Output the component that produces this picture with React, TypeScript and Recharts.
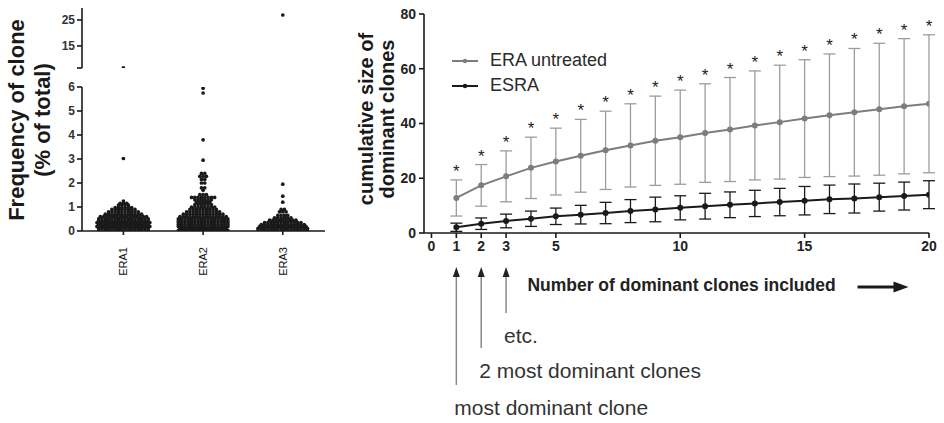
import React from "react";
import {
  ScatterChart,
  Scatter,
  ComposedChart,
  Line,
  ErrorBar,
  XAxis,
  YAxis,
  Legend,
  LabelList,
  ReferenceLine,
  ReferenceDot,
} from "recharts";

// ------------------------------------------------------------
// Left: clone frequency per patient (beeswarm, broken y axis)
// Right: cumulative size of dominant clones, mean +/- SD
// ------------------------------------------------------------

const FONT = '"Liberation Sans", Arial, Helvetica, sans-serif';
const INK = "#1a1a1a";
const GREY = "#7d7d7d";
const GREY_BAR = "#9c9c9c";

// left panel - frequency of clone (% of total) as [value, number of clones at that level]
const groups = ["ERA1", "ERA2", "ERA3"];
const era1Rows = [
  [0.03, 16], [0.11, 16], [0.19, 17], [0.27, 16], [0.35, 17], [0.43, 16], [0.51, 16],
  [0.6, 15], [0.7, 12], [0.8, 10], [0.9, 8], [0.98, 6], [1.08, 4], [1.15, 3], [1.25, 1], [3.02, 1],
];
const era2Rows = [
  [0.03, 16], [0.11, 15], [0.19, 16], [0.27, 16], [0.35, 16], [0.43, 16], [0.51, 16],
  [0.6, 15], [0.7, 13], [0.8, 11], [0.9, 9], [1.0, 8], [1.1, 6], [1.2, 5], [1.3, 6], [1.4, 8],
  [1.52, 3], [1.7, 1], [1.8, 2], [2.0, 2], [2.15, 2], [2.28, 3], [2.4, 2], [2.95, 1], [3.8, 1],
  [5.75, 1], [5.95, 1],
];
const era3Rows = [
  [0.03, 16], [0.11, 16], [0.19, 15], [0.27, 14], [0.35, 12], [0.45, 9], [0.55, 6], [0.65, 4],
  [0.8, 3], [0.9, 2], [1.2, 1], [1.45, 1], [1.95, 1],
];
// clones above the axis break
const era1High = [6.6];
const era2High: number[] = [];
const era3High = [26.9];
const lowTicks = [0, 1, 2, 3, 4, 5, 6];
const highTicks = [6.5, 15, 25];

// right panel
const clonesIncluded = [1, 2, 3, 4, 5, 6, 7, 8, 9, 10, 11, 12, 13, 14, 15, 16, 17, 18, 19, 20];
const eraMean = [12.8, 17.4, 20.7, 23.8, 26.1, 28.2, 30.2, 32, 33.7, 35, 36.5, 37.8, 39.3, 40.5, 41.8, 43, 44.1, 45.2, 46.3, 47.2];
const eraSd = [6.6, 7.6, 9.3, 11.2, 12.2, 13.3, 14.3, 15.2, 16.3, 17.2, 18, 19, 19.9, 20.8, 21.5, 22.4, 23.3, 24.1, 24.7, 25.2];
const esraMean = [2.1, 3.4, 4.4, 5.2, 6.1, 6.7, 7.3, 8, 8.6, 9.2, 9.8, 10.3, 10.8, 11.3, 11.8, 12.3, 12.6, 13.1, 13.5, 14];
const esraSd = [1.5, 2.1, 2.5, 2.8, 3.0, 3.4, 3.9, 4.2, 4.5, 4.4, 4.7, 4.7, 4.8, 5, 5.2, 5.2, 5.3, 5.1, 5.1, 5.1];
const xTicks = [0, 1, 2, 3, 5, 10, 15, 20];
const yTicks = [0, 20, 40, 60, 80];

// pointers under the x axis
const notePoints = [1, 2, 3];
const noteText = ["most dominant clone", "2 most dominant clones", "etc."];
const noteTail = [-55.5, -42, -29.2];
const noteTip = -12.4;

const GAP = 0.0414; // spacing of neighbouring dots, category units

function swarm(rows: number[][], centre: number) {
  const out: { x: number; y: number }[] = [];
  rows.forEach(([v, n]) => {
    for (let i = 0; i < n; i++) out.push({ x: centre + (i - (n - 1) / 2) * GAP, y: v });
  });
  return out;
}

const lowRows = [era1Rows, era2Rows, era3Rows];
const highVals = [era1High, era2High, era3High];

const tableData = clonesIncluded.map((n, i) => ({
  n,
  era: eraMean[i],
  eraSd: eraSd[i],
  esra: esraMean[i],
  esraSd: esraSd[i],
}));

const cloneDot = (p: any) => <circle cx={p.cx} cy={p.cy} r={1.85} fill={INK} />;

const leftTick = { fontSize: 12, fontWeight: 700, fill: "#333", fontFamily: FONT };
const rightTick = { fontSize: 14, fontWeight: 700, fill: "#222", fontFamily: FONT };
const axisStroke = { stroke: INK, strokeWidth: 1.6 };

function GroupTick({ x, y, payload }: any) {
  return (
    <text
      transform={`translate(${x},${y + 10}) rotate(-90)`}
      dy={4}
      textAnchor="end"
      fontSize={11}
      fill="#111"
      fontFamily={FONT}
    >
      {groups[payload.value - 1]}
    </text>
  );
}

function StarLabel({ x, y }: any) {
  return (
    <text x={x} y={y - 3} textAnchor="middle" fontSize={17} fill="#222" fontFamily={FONT}>
      *
    </text>
  );
}

function YTitle({ viewBox }: any) {
  const cy = viewBox.y + viewBox.height / 2 - 4.5;
  const x1 = viewBox.x + 33;
  const x2 = viewBox.x + 54;
  const common = { textAnchor: "middle" as const, fontSize: 20, fontWeight: 700, fill: INK, fontFamily: FONT };
  return (
    <g>
      <text transform={`translate(${x1},${cy}) rotate(-90)`} {...common}>cumulative size of</text>
      <text transform={`translate(${x2},${cy}) rotate(-90)`} {...common}>dominant clones</text>
    </g>
  );
}

function XTitle({ viewBox }: any) {
  const cx = viewBox.x + viewBox.width / 2 + 5;
  const y = viewBox.y + 58;
  return (
    <g>
      <text x={cx} y={y} textAnchor="middle" fontSize={17.5} fontWeight={700} fill="#222" fontFamily={FONT}>
        Number of dominant clones included
      </text>
      <line x1={cx + 176} x2={cx + 216} y1={y - 4} y2={y - 4} stroke={INK} strokeWidth={3} />
      <path d={`M${cx + 212},${y - 9.5} L${cx + 227},${y - 4} L${cx + 212},${y + 1.5} Z`} fill={INK} />
    </g>
  );
}

function SeriesKey({ payload }: any) {
  const items = (payload || []).filter((e: any) => e.type !== "none");
  return (
    <div style={{ fontFamily: FONT }}>
      {items.map((e: any) => (
        <div key={e.value} style={{ display: "flex", alignItems: "center", height: 25 }}>
          <svg width={26} height={10} style={{ marginRight: 12 }}>
            <line x1={0} x2={26} y1={5} y2={5} stroke={e.color} strokeWidth={2} />
            <circle cx={13} cy={5} r={2.2} fill={e.color} />
          </svg>
          <span style={{ fontSize: 18, color: "#2a2a2a" }}>{e.value}</span>
        </div>
      ))}
    </div>
  );
}

const ArrowHead = (p: any) => (
  <path d={`M${p.cx},${p.cy} L${p.cx - 3.5},${p.cy + 10} L${p.cx + 3.5},${p.cy + 10} Z`} fill="#222" />
);

const NoteText = (text: string) => (p: any) => (
  <text x={p.cx - 2} y={p.cy + 30} fontSize={21} fill="#333" fontFamily={FONT}>
    {text}
  </text>
);

export default function App() {
  return (
    <div style={{ position: "absolute", left: 0, top: 0, width: 944, height: 423, background: "#fff" }}>
      {/* left y title */}
      <svg style={{ position: "absolute", left: 0, top: 0 }} width={60} height={240}>
        <text transform="translate(23.5,120) rotate(-90)" textAnchor="middle" fontSize={22} fontWeight={700} fill={INK} fontFamily={FONT}>
          Frequency of clone
        </text>
        <text transform="translate(50,120) rotate(-90)" textAnchor="middle" fontSize={22} fontWeight={700} fill={INK} fontFamily={FONT}>
          (% of total)
        </text>
      </svg>

      {/* left, lower segment 0-6 */}
      <div style={{ position: "absolute", left: 0, top: 80 }}>
        <ScatterChart width={340} height={220} margin={{ top: 7, right: 15, bottom: 19, left: 0 }}>
          <XAxis
            type="number"
            dataKey="x"
            domain={[0.48, 3.53]}
            ticks={[1, 2, 3]}
            height={50}
            axisLine={axisStroke}
            tickLine={axisStroke}
            tickSize={4}
            tick={<GroupTick />}
            allowDataOverflow
          />
          <YAxis
            type="number"
            dataKey="y"
            domain={[0, 6]}
            ticks={lowTicks}
            interval={0}
            width={82}
            axisLine={axisStroke}
            tickLine={axisStroke}
            tickSize={5}
            tick={leftTick}
            allowDataOverflow
          />
          {lowRows.map((rows, i) => (
            <Scatter key={groups[i]} name={groups[i]} data={swarm(rows, i + 1)} shape={cloneDot} isAnimationActive={false} />
          ))}
        </ScatterChart>
      </div>

      {/* left, upper segment above the break */}
      <div style={{ position: "absolute", left: 0, top: 0 }}>
        <ScatterChart width={340} height={76} margin={{ top: 8, right: 15, bottom: 8, left: 0 }}>
          <XAxis type="number" dataKey="x" domain={[0.48, 3.53]} hide allowDataOverflow />
          <YAxis
            type="number"
            dataKey="y"
            domain={[6.5, 29.6]}
            ticks={highTicks}
            interval={0}
            tickFormatter={(v) => (v === 6.5 ? "" : String(v))}
            width={82}
            axisLine={axisStroke}
            tickLine={axisStroke}
            tickSize={5}
            tick={leftTick}
            allowDataOverflow
          />
          {highVals.map((vals, i) => (
            <Scatter
              key={groups[i]}
              name={groups[i]}
              data={vals.map((v) => ({ x: i + 1, y: v }))}
              shape={cloneDot}
              isAnimationActive={false}
            />
          ))}
        </ScatterChart>
      </div>

      {/* right panel */}
      <div style={{ position: "absolute", left: 340, top: 0 }}>
        <ComposedChart width={604} height={423} data={tableData} margin={{ top: 14, right: 15, bottom: 130, left: 0 }}>
          <XAxis
            type="number"
            dataKey="n"
            domain={[-0.3, 20]}
            ticks={xTicks}
            interval={0}
            height={60}
            axisLine={axisStroke}
            tickLine={axisStroke}
            tickSize={5}
            tickMargin={3}
            tick={rightTick}
            label={<XTitle />}
            allowDataOverflow
          />
          <YAxis
            type="number"
            domain={[0, 80]}
            ticks={yTicks}
            interval={0}
            width={84}
            axisLine={axisStroke}
            tickLine={axisStroke}
            tickSize={5}
            tickMargin={3}
            tick={rightTick}
            label={<YTitle />}
            allowDataOverflow
          />
          <Legend
            layout="vertical"
            align="center"
            verticalAlign="middle"
            content={<SeriesKey />}
            wrapperStyle={{ top: 48, left: 112, width: "auto" }}
          />
          <Line
            dataKey="era"
            name="ERA untreated"
            stroke={GREY}
            strokeWidth={2}
            dot={{ r: 2, fill: GREY, stroke: GREY }}
            activeDot={false}
            isAnimationActive={false}
          >
            <ErrorBar dataKey="eraSd" direction="y" width={6} stroke={GREY_BAR} strokeWidth={1.3} isAnimationActive={false} />
          </Line>
          <Line
            dataKey="esra"
            name="ESRA"
            stroke={INK}
            strokeWidth={2}
            dot={{ r: 2, fill: INK, stroke: INK }}
            activeDot={false}
            isAnimationActive={false}
          >
            <ErrorBar dataKey="esraSd" direction="y" width={6} stroke={INK} strokeWidth={1.3} isAnimationActive={false} />
          </Line>
          <Line
            dataKey={(d: any) => d.era + d.eraSd}
            name="significance"
            stroke="none"
            dot={false}
            activeDot={false}
            legendType="none"
            isAnimationActive={false}
          >
            <LabelList content={<StarLabel />} />
          </Line>

          {notePoints.map((n, i) => (
            <ReferenceLine
              key={`shaft${n}`}
              segment={[{ x: n, y: noteTip - 3 }, { x: n, y: noteTail[i] }]}
              stroke="#8a8a8a"
              strokeWidth={1.5}
              ifOverflow="visible"
            />
          ))}
          {notePoints.map((n) => (
            <ReferenceDot key={`head${n}`} x={n} y={noteTip} ifOverflow="visible" shape={ArrowHead} />
          ))}
          {notePoints.map((n, i) => (
            <ReferenceDot key={`note${n}`} x={n} y={noteTail[i]} ifOverflow="visible" shape={NoteText(noteText[i])} />
          ))}
        </ComposedChart>
      </div>
    </div>
  );
}
